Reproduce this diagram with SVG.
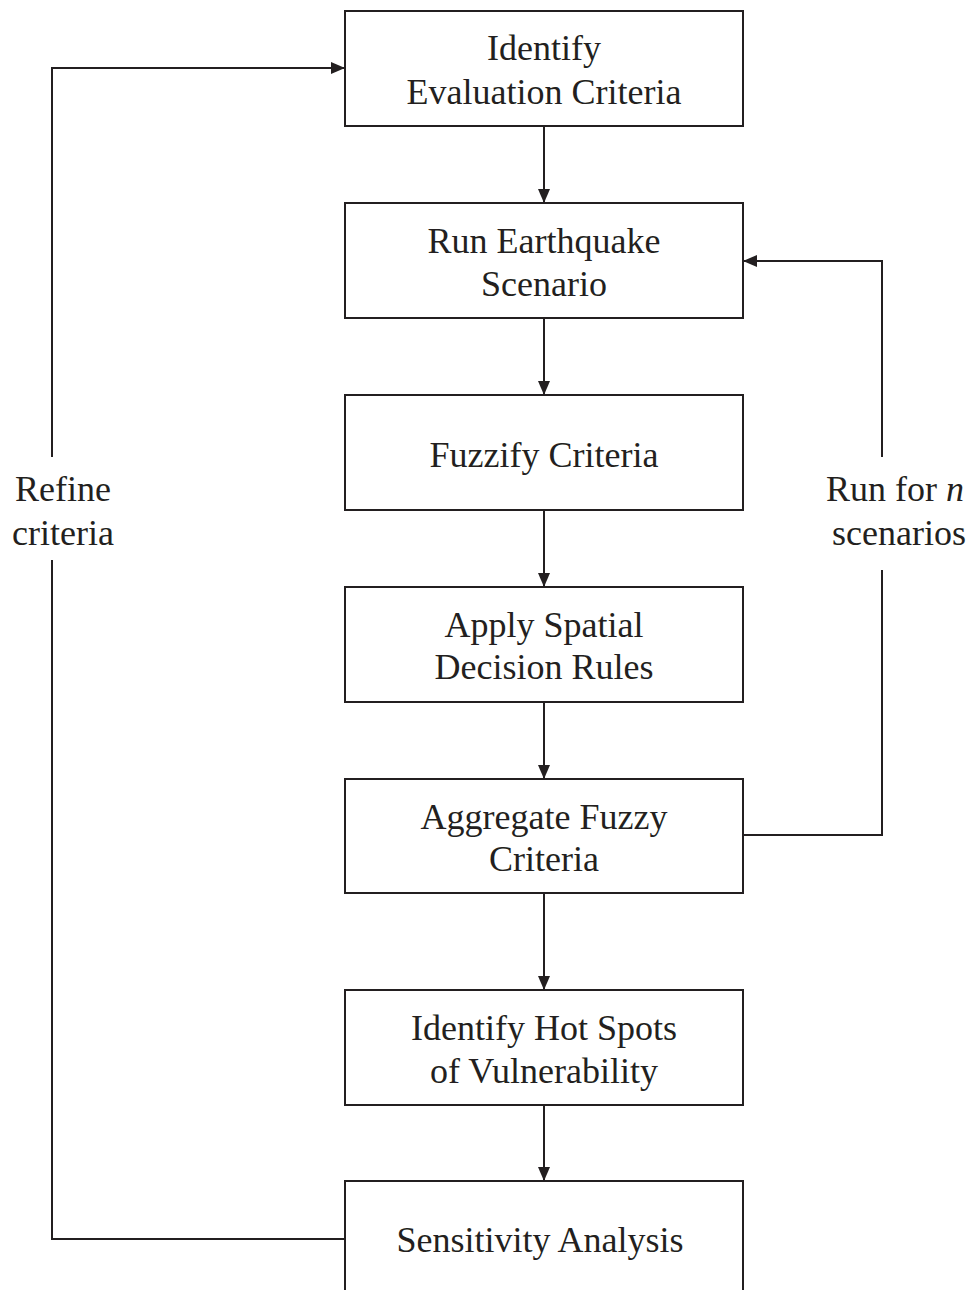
<svg xmlns="http://www.w3.org/2000/svg" width="969" height="1290" viewBox="0 0 969 1290">
<style>
.box{fill:#fff;stroke:#231f20;stroke-width:2}
.t{font-family:"Liberation Serif","Times New Roman",serif;font-size:36px;fill:#231f20;text-anchor:middle}
.c{fill:none;stroke:#231f20;stroke-width:2}
</style>
<defs>
<marker id="ah" viewBox="0 0 14 12" refX="14" refY="6" markerWidth="14" markerHeight="12" markerUnits="userSpaceOnUse" orient="auto">
<path d="M0,0 L14,6 L0,12 Z" fill="#231f20"/>
</marker>
</defs>
<g id="n1"><rect class="box" x="345" y="11" width="398" height="115"/><text class="t" x="544" y="60">Identify</text><text class="t" x="544" y="104">Evaluation Criteria</text></g>
<g id="n2"><rect class="box" x="345" y="203" width="398" height="115"/><text class="t" x="544" y="253">Run Earthquake</text><text class="t" x="544" y="296">Scenario</text></g>
<g id="n3"><rect class="box" x="345" y="395" width="398" height="115"/><text class="t" x="544" y="467">Fuzzify Criteria</text></g>
<g id="n4"><rect class="box" x="345" y="587" width="398" height="115"/><text class="t" x="544" y="637">Apply Spatial</text><text class="t" x="544" y="679">Decision Rules</text></g>
<g id="n5"><rect class="box" x="345" y="779" width="398" height="114"/><text class="t" x="544" y="829">Aggregate Fuzzy</text><text class="t" x="544" y="871">Criteria</text></g>
<g id="n6"><rect class="box" x="345" y="990" width="398" height="115"/><text class="t" x="544" y="1040">Identify Hot Spots</text><text class="t" x="544" y="1083">of Vulnerability</text></g>
<g id="n7"><rect class="box" x="345" y="1181" width="398" height="130"/><text class="t" x="540" y="1252">Sensitivity Analysis</text></g>
<g id="connectors">
<line class="c" x1="544" y1="126" x2="544" y2="203" marker-end="url(#ah)"/>
<line class="c" x1="544" y1="318" x2="544" y2="395" marker-end="url(#ah)"/>
<line class="c" x1="544" y1="510" x2="544" y2="587" marker-end="url(#ah)"/>
<line class="c" x1="544" y1="702" x2="544" y2="779" marker-end="url(#ah)"/>
<line class="c" x1="544" y1="893" x2="544" y2="990" marker-end="url(#ah)"/>
<line class="c" x1="544" y1="1105" x2="544" y2="1181" marker-end="url(#ah)"/>
<polyline class="c" points="345,1239 52,1239 52,560"/>
<polyline class="c" points="52,457 52,68 345,68" marker-end="url(#ah)"/>
<polyline class="c" points="743,835 882,835 882,570"/>
<polyline class="c" points="882,457 882,261 743,261" marker-end="url(#ah)"/>
</g>
<g id="labels">
<text class="t" x="63" y="501">Refine</text><text class="t" x="63" y="545">criteria</text>
<text class="t" x="895" y="501">Run for <tspan font-style="italic">n</tspan></text><text class="t" x="899" y="545">scenarios</text>
</g>
</svg>
